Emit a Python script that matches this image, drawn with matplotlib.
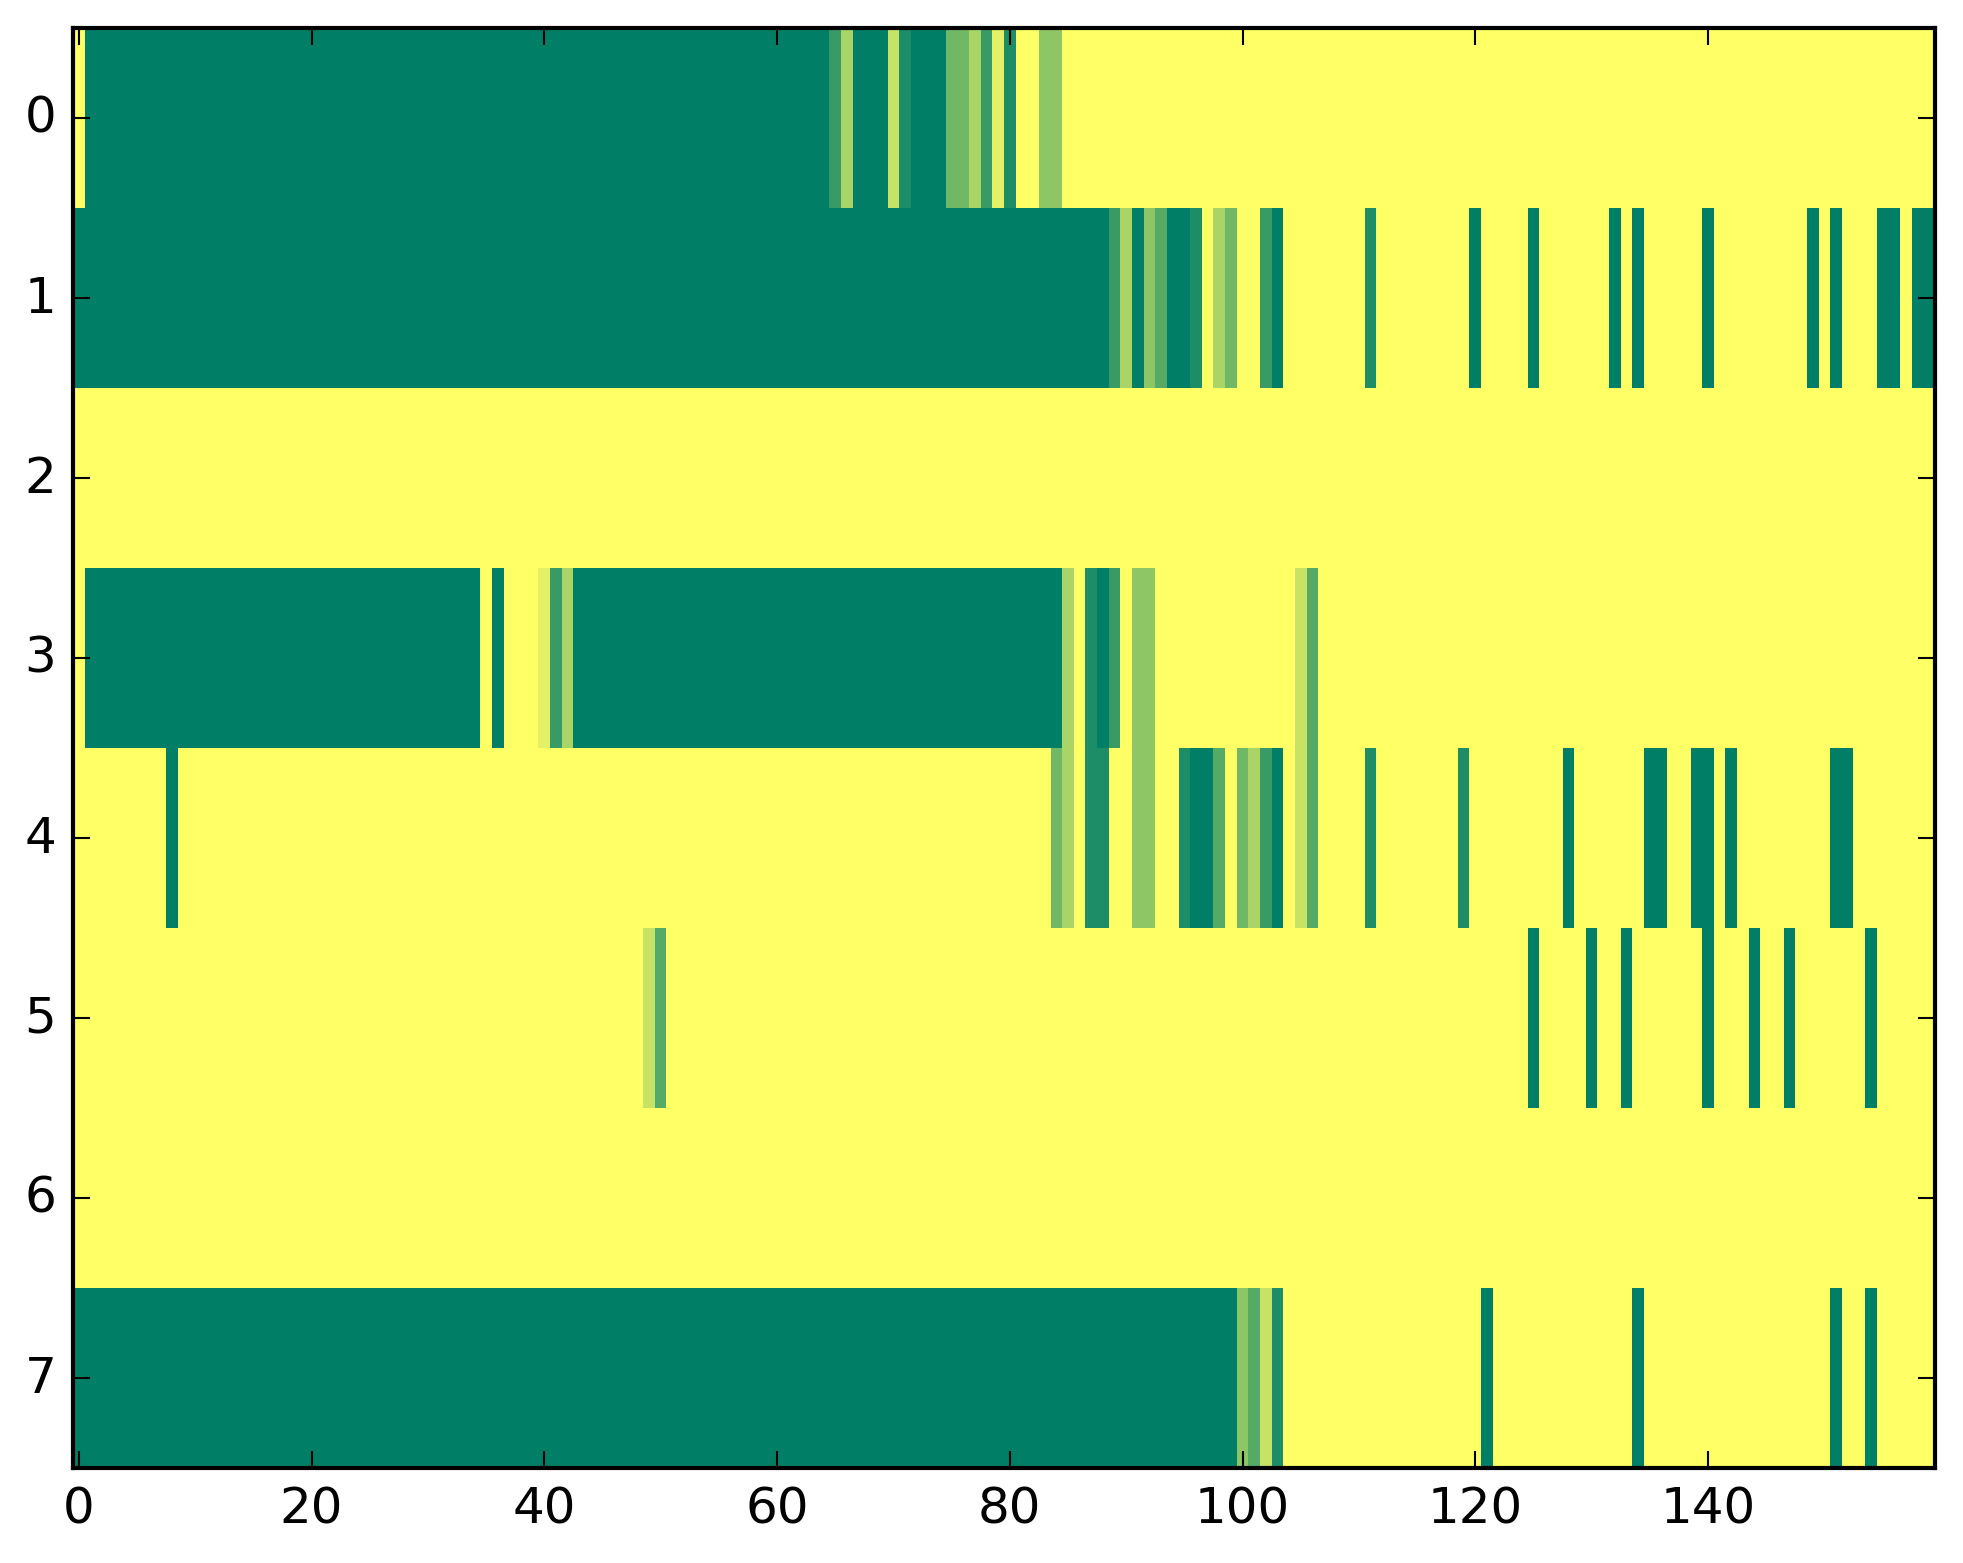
import numpy as np
import matplotlib
matplotlib.use('Agg')
import matplotlib.pyplot as plt

# cell values in ninths (9 = 1.0), written as (value, run length) per row
row0 = [(9, 1), (0, 64), (2, 1), (6, 1), (0, 3), (7, 1), (1, 1), (0, 3), (4, 2),
        (6, 1), (2, 1), (8, 1), (1, 1), (9, 2), (5, 2), (9, 75)]
row1 = [(0, 89), (2, 1), (6, 1), (0, 1), (5, 1), (3, 1), (0, 2), (1, 1), (9, 1),
        (6, 1), (4, 1), (9, 2), (2, 1), (0, 1), (9, 7), (1, 1), (9, 8), (0, 1),
        (9, 4), (0, 1), (9, 6), (0, 1), (9, 1), (0, 1), (9, 5), (0, 1), (9, 8),
        (0, 1), (9, 1), (0, 1), (9, 3), (0, 2), (9, 1), (0, 2)]
row2 = [(9, 160)]
row3 = [(9, 1), (0, 34), (9, 1), (0, 1), (9, 3), (8, 1), (2, 1), (6, 1), (0, 42),
        (6, 1), (9, 1), (1, 1), (0, 1), (2, 1), (9, 1), (5, 2), (9, 12), (7, 1),
        (3, 1), (9, 53)]
row4 = [(9, 8), (0, 1), (9, 75), (4, 1), (6, 1), (9, 1), (1, 2), (9, 2), (5, 2),
        (9, 2), (1, 1), (0, 2), (3, 1), (9, 1), (4, 1), (6, 1), (2, 1), (0, 1),
        (9, 1), (7, 1), (3, 1), (9, 4), (1, 1), (9, 7), (1, 1), (9, 8), (0, 1),
        (9, 6), (0, 2), (9, 2), (0, 2), (9, 1), (0, 1), (9, 8), (0, 2), (9, 7)]
row5 = [(9, 49), (7, 1), (3, 1), (9, 74), (0, 1), (9, 4), (0, 1), (9, 2), (0, 1),
        (9, 6), (0, 1), (9, 3), (0, 1), (9, 2), (0, 1), (9, 6), (0, 1), (9, 5)]
row6 = [(9, 160)]
row7 = [(0, 100), (5, 1), (3, 1), (7, 1), (1, 1), (9, 17), (0, 1), (9, 12), (0, 1),
        (9, 16), (0, 1), (9, 2), (0, 1), (9, 5)]

rows = [row0, row1, row2, row3, row4, row5, row6, row7]


def expand(runs):
    vals = [v for v, n in runs]
    counts = [n for v, n in runs]
    out = np.repeat(vals, counts) / 9.0
    assert len(out) == 160, len(out)
    return out


data = np.vstack([expand(r) for r in rows])

plt.style.use('classic')
fig = plt.figure(figsize=(1963 / 300, 1564 / 300), dpi=300, facecolor='white')
ax = fig.add_axes([0.0372, 0.0609, 0.9485, 0.9207])
ax.imshow(data, cmap='summer', aspect='auto', interpolation='nearest',
          vmin=0, vmax=1)
ax.set_xticks(np.arange(0, 160, 20))
ax.set_yticks(np.arange(8))
ax.set_xlim(-0.5, 159.5)
ax.set_ylim(7.5, -0.5)

fig.savefig('out.png', dpi=300, facecolor='white')
